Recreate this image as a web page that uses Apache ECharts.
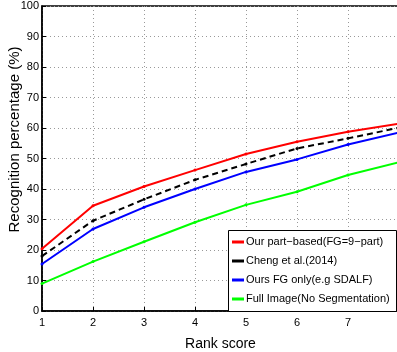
<!DOCTYPE html>
<html>
<head>
<meta charset="utf-8">
<script src="https://cdn.jsdelivr.net/npm/echarts@6/dist/echarts.min.js"></script>
<style>
html,body{margin:0;padding:0;background:#fff;}
#chart{width:397px;height:352px;}
</style>
</head>
<body>
<div id="chart"></div>
<script>
// 数据
var ranks = [1, 2, 3, 4, 5, 6, 7, 8];
var partBased = [20.4, 34.5, 40.8, 46.2, 51.5, 55.5, 58.8, 61.4];
var cheng = [18.0, 29.6, 36.6, 43.0, 48.2, 53.3, 56.6, 60.1];
var fgOnly = [15.4, 26.9, 34.0, 40.0, 45.6, 49.7, 54.6, 58.5];
var fullImage = [9.0, 16.2, 22.7, 29.1, 34.8, 39.1, 44.6, 48.8];
var names = ['Our part\u2212based(FG=9\u2212part)', 'Cheng et al.(2014)', 'Ours FG only(e.g SDALF)', 'Full Image(No Segmentation)'];

function pairs(arr){
    var res = [];
    for (var i = 0; i < ranks.length; i++) res.push([ranks[i], arr[i]]);
    return res;
}

function mkSeries(name, arr, color, dashed){
    return {
        name: name,
        type: 'line',
        data: pairs(arr),
        symbol: 'circle',
        symbolSize: 3,
        clip: false,
        lineStyle: {color: color, width: 2, type: dashed ? [6, 4] : 'solid'},
        itemStyle: {color: color},
        emphasis: {disabled: true}
    };
}

var myChart = echarts.init(document.getElementById('chart'));
var font = 'Liberation Sans, Arial, sans-serif';
var option = {
    backgroundColor: '#fff',
    animation: false,
    textStyle: {fontFamily: font},
    grid: {left: 42, top: 6, right: -2, bottom: 41, outerBoundsMode: 'none', containLabel: false,
        show: true, borderColor: '#000', borderWidth: 1.5},
    xAxis: {
        type: 'value', min: 1, max: 8, interval: 1,
        name: 'Rank score', nameLocation: 'middle', nameGap: 26, nameMoveOverlap: false,
        nameTextStyle: {fontSize: 14, color: '#000', fontFamily: font},
        axisLine: {lineStyle: {color: '#000', width: 1.5}},
        axisTick: {inside: true, length: 4, lineStyle: {color: '#000'}},
        axisLabel: {fontSize: 11, color: '#000', margin: 6, formatter: function(v){ return v >= 8 ? '' : v; }},
        splitLine: {show: true, lineStyle: {color: '#999', type: [1, 3], width: 1}}
    },
    yAxis: {
        type: 'value', min: 0, max: 100, interval: 10,
        name: 'Recognition percentage (%)', nameLocation: 'middle', nameGap: 20, nameMoveOverlap: false,
        nameTextStyle: {fontSize: 15, color: '#000', fontFamily: font, padding: [0, 0, 0, 38]},
        axisLine: {show: true, lineStyle: {color: '#000', width: 1.5}},
        axisTick: {show: true, inside: true, length: 4, lineStyle: {color: '#000'}},
        axisLabel: {fontSize: 11, color: '#000', margin: 3},
        splitLine: {show: true, lineStyle: {color: '#999', type: [1, 3], width: 1}}
    },
    legend: {
        orient: 'vertical', left: 232, top: 236, z: 20,
        itemWidth: 12, itemHeight: 3, itemGap: 7,
        icon: 'rect',
        padding: 0,
        textStyle: {fontSize: 11, lineHeight: 12, color: '#000', fontFamily: font, padding: [0, 0, 0, -3]},
        data: names
    },
    graphic: [{
        type: 'rect', z: 10,
        shape: {x: 228.5, y: 230.5, width: 168, height: 81},
        style: {fill: '#fff', stroke: '#000', lineWidth: 1}
    }],
    series: [
        mkSeries(names[0], partBased, '#ff0000', false),
        mkSeries(names[1], cheng, '#000000', true),
        mkSeries(names[2], fgOnly, '#0000ff', false),
        mkSeries(names[3], fullImage, '#00ff00', false)
    ]
};
myChart.setOption(option);
</script>
</body>
</html>
